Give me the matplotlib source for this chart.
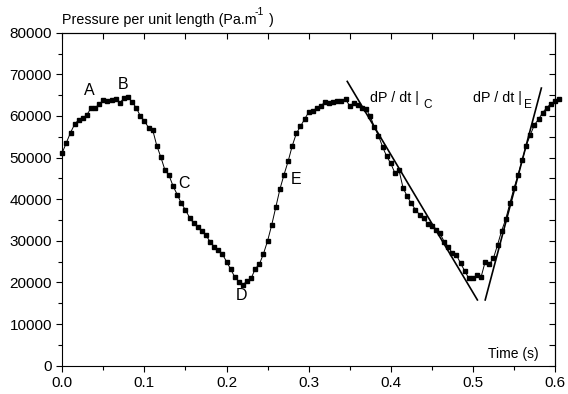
import numpy as np
from matplotlib import pyplot as plt
from matplotlib.ticker import MultipleLocator

plt.rcParams['font.family'] = ['Liberation Sans', 'DejaVu Sans']

# sampled every 5 ms
time = np.arange(122) * 0.005
pressure = [51200, 53600, 56000, 58000, 59100, 59500, 60300, 61900, 62000, 62800,
            63800, 63600, 63900, 64100, 63100, 64300, 64600, 63300, 62000, 60000,
            58800, 57200, 56700, 52900, 50100, 47000, 45700, 43100, 41100, 39000,
            37400, 35600, 34200, 33300, 32400, 31300, 29800, 28600, 27800, 26800,
            25000, 23200, 21300, 20200, 19400, 20400, 21000, 23300, 24400, 26900,
            30000, 33800, 38100, 42400, 45900, 49100, 52800, 55800, 57500, 59200,
            60900, 61300, 61900, 62500, 63300, 63000, 63300, 63500, 63500, 64000,
            62400, 63100, 62600, 62000, 61600, 60000, 57300, 55300, 52600, 50300,
            48600, 46300, 47000, 42700, 40700, 39000, 37500, 36300, 35500, 34100,
            33500, 32600, 31800, 29800, 28600, 27000, 26600, 24600, 22800, 21000,
            21000, 21800, 21300, 25000, 24400, 25800, 29000, 32400, 35200, 39000,
            42600, 45800, 49400, 52900, 55500, 57900, 59200, 60800, 62000, 62900,
            63500, 64000]

# tangent lines (start, end)
tangent_c_t = [0.347, 0.5055]
tangent_c_p = [68300, 15800]
tangent_e_t = [0.515, 0.5834]
tangent_e_p = [15800, 66700]

point_labels = ['A', 'B', 'C', 'D', 'E']
point_label_t = [0.0334, 0.0739, 0.1486, 0.2177, 0.2843]
point_label_p = [66040, 67480, 43850, 16760, 44640]

fig = plt.figure(figsize=(5.68, 3.94), dpi=100)
ax = fig.add_axes([0.1097, 0.0718, 0.8674, 0.8452])

ax.plot(time, pressure, color='black', lw=0.7, marker='s', ms=3.3, clip_on=False)
ax.plot(tangent_c_t, tangent_c_p, color='black', lw=1.2)
ax.plot(tangent_e_t, tangent_e_p, color='black', lw=1.2)

for lab, t, p in zip(point_labels, point_label_t, point_label_p):
    ax.text(t, p, lab, fontsize=11.5, ha='center', va='center')

# slope labels, subscript drawn as its own text
ax.text(0.3748, 64400, 'dP / dt |', fontsize=10.3, va='center')
ax.text(0.4450, 62700, 'C', fontsize=8.5, ha='center', va='center')
ax.text(0.4999, 64400, 'dP / dt |', fontsize=10.3, va='center')
ax.text(0.5675, 62700, 'E', fontsize=8.5, ha='center', va='center')

ax.text(0.5806, 2900, 'Time (s)', fontsize=10, ha='right', va='center')
ax.text(0.0, 81300, 'Pressure per unit length (Pa.m', fontsize=10.3,
        ha='left', va='bottom')
ax.text(0.2345, 83800, '-1', fontsize=7.5, ha='left', va='bottom')
ax.text(0.2520, 81300, ')', fontsize=10.3, ha='left', va='bottom')

ax.set_xlim(0, 0.6)
ax.set_ylim(0, 80000)
ax.xaxis.set_major_locator(MultipleLocator(0.1))
ax.xaxis.set_minor_locator(MultipleLocator(0.05))
ax.yaxis.set_major_locator(MultipleLocator(10000))
ax.yaxis.set_minor_locator(MultipleLocator(5000))
ax.xaxis.set_major_formatter(plt.FormatStrFormatter('%.1f'))
ax.tick_params(which='both', direction='out', labelsize=11, width=0.8)
ax.tick_params(which='major', length=4)
ax.tick_params(which='minor', length=3)

# mirrored inward ticks on top and right
top = ax.secondary_xaxis('top')
top.xaxis.set_major_locator(MultipleLocator(0.1))
top.xaxis.set_minor_locator(MultipleLocator(0.05))
top.tick_params(which='both', direction='in', labeltop=False, length=4, width=0.8)
right = ax.secondary_yaxis('right')
right.yaxis.set_major_locator(MultipleLocator(10000))
right.yaxis.set_minor_locator(MultipleLocator(5000))
right.tick_params(which='both', direction='in', labelright=False, length=4, width=0.8)

for s in ax.spines.values():
    s.set_linewidth(0.8)

plt.savefig('out.png', dpi=100)
